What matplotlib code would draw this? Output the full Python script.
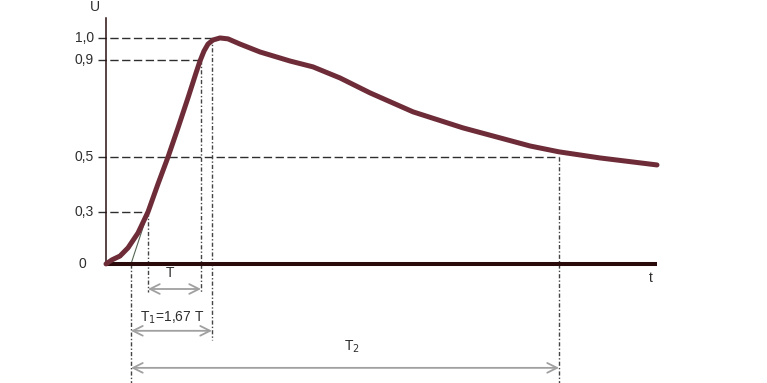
import matplotlib
matplotlib.use("Agg")
import matplotlib.pyplot as plt

# ── Datos (unidades del dibujo: t arbitrario, u en altura relativa) ──────────
t_curve = [0, 0.6, 1.4, 2.2, 3.2, 4.2, 5.2, 6.2, 7.2, 8.2, 9.0, 9.4, 9.8,
           10.2, 10.7, 11.4, 12.2, 13.4, 15.4, 18.4, 20.7, 23.4, 26.4,
           30.7, 35.7, 42.4, 45.3, 49.4, 55.1]
u_curve = [0, 0.018, 0.035, 0.071, 0.137, 0.230, 0.354, 0.473, 0.602,
           0.735, 0.845, 0.898, 0.942, 0.973, 0.991, 1.0, 0.996, 0.973,
           0.938, 0.898, 0.872, 0.823, 0.757, 0.673, 0.602, 0.522, 0.496,
           0.469, 0.438]

tick_labels = ["1,0", "0,9", "0,5", "0,3"]
tick_levels = [1.0, 0.903, 0.473, 0.230]      # altura dibujada de cada nivel
tick_ends   = [10.6, 9.5, 45.3, 4.2]          # donde la línea corta la curva

t_foot = 2.5     # pie de la tangente
t_end  = 55.1

# ── Figura ────────────────────────────────────────────────────────────────────
plt.rcParams["font.family"] = ["Liberation Sans", "DejaVu Sans"]
TXT = "#2e2e2e"
FS = 10
fig = plt.figure(figsize=(7.67, 3.83), dpi=100)
ax = fig.add_axes([0, 0, 1, 1])
ax.set_xlim(-10.6, 66.1)
ax.set_ylim(-0.527, 1.168)
ax.axis("off")

# ejes
ax.plot([0, 0], [0, 1.088], color="#2a1010", lw=1.1, zorder=3)
ax.plot([0, t_end], [0, 0], color="#2a0a0a", lw=2.9, solid_capstyle="butt", zorder=4)

# niveles horizontales
for lab, lev, te in zip(tick_labels, tick_levels, tick_ends):
    ax.plot([-0.8, te], [lev, lev], color=TXT, lw=1.0, dashes=(6, 2.5), zorder=2)
    ax.text(-1.2, lev, lab, ha="right", va="center", fontsize=FS, color=TXT)
ax.text(-2.0, 0, "0", ha="right", va="center", fontsize=FS, color=TXT)
ax.text(-1.1, 1.135, "U", ha="center", va="center", fontsize=FS, color=TXT)
ax.text(54.5, -0.062, "t", ha="center", va="center", fontsize=FS, color=TXT)

# líneas verticales punto-raya
dd = (0, (3, 1.5, 1, 1.5))
verticals = [(t_foot, 0, -0.527), (4.2, 0.230, -0.124), (9.5, 0.903, -0.124),
             (10.6, 1.0, -0.336), (45.3, 0.473, -0.527)]
for x, y0, y1 in verticals:
    ax.plot([x, x], [y0, y1], color="#444444", lw=1.0, linestyle=dd, zorder=2)

# tangente
ax.plot([t_foot, 4.4], [0, 0.255], color="#556655", lw=0.8, zorder=3)

# curva
ax.plot(t_curve, u_curve, color="#6e2c38", lw=3.6, solid_capstyle="round",
        solid_joinstyle="round", zorder=5)

# flechas de intervalo
arrows = [(4.2, 9.5, -0.111), (t_foot, 10.6, -0.296), (t_foot, 45.3, -0.46)]
for x0, x1, y in arrows:
    ax.annotate("", xy=(x1, y), xytext=(x0, y),
                arrowprops=dict(arrowstyle="<->,head_length=0.7,head_width=0.35",
                                color="#a0a0a0", lw=1.3, shrinkA=0, shrinkB=0))

ax.text(6.4, -0.04, "T", ha="center", va="center", fontsize=FS, color=TXT)
ax.text(6.6, -0.239, "T$_1$=1,67 T", ha="center", va="center", fontsize=FS, color=TXT)
ax.text(24.6, -0.367, "T$_2$", ha="center", va="center", fontsize=FS, color=TXT)

fig.savefig("out.png", dpi=100, facecolor="white")
